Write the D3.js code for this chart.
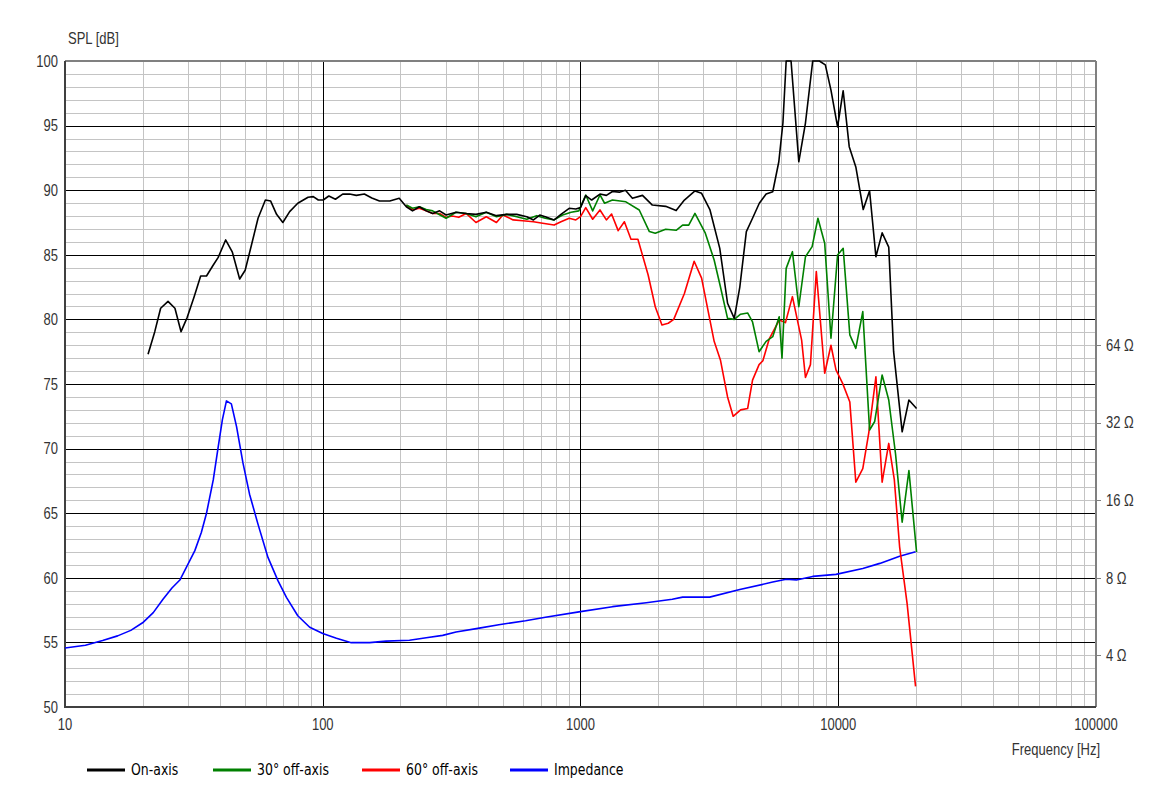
<!DOCTYPE html>
<html><head><meta charset="utf-8">
<script src="https://cdn.jsdelivr.net/npm/d3@7"></script>
<style>body{margin:0;background:#fff}svg{display:block}</style>
</head><body>
<script>
// ---------- data ----------
const onFreq = [21.0,22.3,23.5,25.1,26.7,28.2,29.8,31.7,33.6,35.4,37.4,39.3,42.0,44.6,47.6,50.0,52.9,56.1,59.9,62.8,66.2,70.0,74.4,80.0,87.7,91.9,96.1,100.4,105.6,112,119.5,127,135,145,155,166,182,198,211,223,237,252,267,284,301,329,360,393,431,472,517,566,619,657,695,730,790,840,904,959,1000,1048,1105,1190,1260,1330,1415,1494,1590,1740,1900,2140,2350,2530,2780,2950,3180,3470,3720,3950,4150,4400,4650,4940,5250,5570,5880,6100,6280,6560,7030,7460,7960,8450,8910,9370,9940,10450,11030,11700,12500,13230,14000,14800,15700,16400,17700,18800,20130];
const onSpl  = [77.3,79.05,80.86,81.4,80.86,79.05,80.16,81.76,83.36,83.36,84.13,84.8,86.15,85.2,83.13,83.8,85.76,87.83,89.24,89.16,88.13,87.5,88.34,88.99,89.45,89.5,89.24,89.24,89.55,89.3,89.7,89.7,89.6,89.7,89.4,89.16,89.16,89.37,88.72,88.4,88.72,88.4,88.2,88.4,88.08,88.29,88.2,88.13,88.29,88.03,88.13,88.13,87.95,87.7,88.08,87.95,87.7,88.13,88.6,88.55,88.65,89.58,89.24,89.7,89.6,89.9,89.85,90.0,89.37,89.6,88.85,88.75,88.42,89.24,89.94,89.76,88.47,85.5,81.25,80.08,82.5,86.8,87.83,88.99,89.7,89.88,92.2,95.2,100,100,92.2,95.2,100,100,99.7,97.75,94.9,97.7,93.37,91.8,88.5,89.96,84.85,86.7,85.6,77.5,71.3,73.76,73.1];

const off30Freq = [211,223,237,252,267,284,301,329,360,393,431,472,517,566,619,676,730,790,852,920,985,1048,1115,1190,1240,1330,1500,1690,1850,1950,2140,2350,2490,2630,2780,3050,3300,3490,3720,3950,4180,4450,4650,4930,5250,5570,5900,6050,6280,6640,7030,7460,7920,8340,8860,9370,9940,10450,11090,11700,12450,13230,13850,14800,15700,16680,17700,18800,20130];
const off30Spl  = [88.85,88.6,88.72,88.5,88.4,88.1,87.83,88.29,88.2,87.95,88.29,87.95,88.13,87.95,87.75,88.03,87.83,87.7,88.08,88.29,88.4,89.63,88.4,89.63,88.99,89.24,89.1,88.47,86.8,86.67,86.98,86.9,87.3,87.3,88.2,86.67,84.6,82.53,80.08,80.0,80.4,80.5,79.8,77.5,78.3,78.66,80.2,77.0,83.95,85.24,80.98,84.85,85.63,87.83,85.9,78.54,84.98,85.5,78.8,77.76,80.6,71.44,72.1,75.7,73.76,69.6,64.3,68.3,62.0];

const off60Freq = [211,223,237,252,267,284,301,318,337,360,393,431,472,500,548,597,657,713,790,840,904,959,1000,1048,1115,1190,1260,1320,1400,1480,1570,1670,1830,1950,2070,2190,2300,2530,2760,2950,3300,3490,3720,3910,4180,4450,4650,4930,5100,5400,5900,6240,6640,7210,7460,7800,8220,8860,9370,9800,10400,11090,11700,12450,13130,14000,14800,15700,16500,17300,18500,19950];
const off60Spl  = [88.85,88.47,88.6,88.4,88.2,88.2,87.9,88.0,87.9,88.2,87.5,87.95,87.5,88.08,87.7,87.64,87.56,87.44,87.3,87.56,87.83,87.7,87.95,88.65,87.75,88.47,87.7,88.16,86.87,87.56,86.2,86.2,83.44,80.98,79.57,79.7,80.0,82.0,84.5,83.2,78.3,76.86,74.0,72.5,73.0,73.1,75.3,76.5,76.8,78.5,79.95,79.75,81.76,78.4,75.5,76.5,83.7,75.83,78.0,76.1,75.05,73.6,67.4,68.45,71.2,75.56,67.4,70.4,67.6,62.4,58.0,51.6];

const impFreq = [10,12,14,16,18,20,22,24,26,27.9,29.6,31.9,33.8,35.4,37.6,39.3,40.8,42.3,44.2,46.3,49.0,52.0,56.1,61.3,67.0,72.3,80.0,89,100,113,129,152,176,217,252,292,329,405,482,612,731,986,1330,1800,2270,2490,3170,4150,5570,6280,6880,7960,9800,12450,14500,17300,19950];
const impOhm  = [4.27,4.38,4.57,4.76,5.0,5.35,5.86,6.6,7.3,7.84,8.8,10.2,12.0,14.25,19.2,25.8,32.9,38.9,37.9,30.9,22.4,16.9,12.9,9.6,7.8,6.72,5.7,5.14,4.86,4.66,4.48,4.48,4.54,4.58,4.68,4.78,4.93,5.1,5.26,5.45,5.62,5.9,6.18,6.4,6.6,6.73,6.73,7.2,7.7,7.9,7.85,8.1,8.25,8.7,9.1,9.7,10.1];

const xTicks = [10,100,1000,10000,100000];
const xTickLabels = ["10","100","1000","10000","100000"];
const yTicks = [50,55,60,65,70,75,80,85,90,95,100];
const ohmTicks = [4,8,16,32,64];
const ohmTickLabels = ["4 Ω","8 Ω","16 Ω","32 Ω","64 Ω"];
const legendNames = ["On-axis","30° off-axis","60° off-axis","Impedance"];
const seriesColors = ["#000000","#008000","#ff0000","#0000ff"];

// ---------- layout ----------
const W = 1173, H = 800;
const L = 65, R = 1096, T = 61, B = 707;
const SY = 1.22; // vertical stretch of the original rendering's text

const svg = d3.select("body").append("svg").attr("width", W).attr("height", H);
svg.append("rect").attr("width", W).attr("height", H).attr("fill", "#fff");

const x = d3.scaleLog().domain([10, 100000]).range([L, R]);
const y = d3.scaleLinear().domain([50, 100]).range([B, T]);
const yOhm = d3.scaleLog().base(2).domain([8 * Math.pow(2, -10/6), 8 * Math.pow(2, 40/6)]).range([B, T]);

function stext(parent, px, py, str, anchor, family, size, fill) {
  parent.append("g").attr("transform", `translate(${px},${py}) scale(1,${SY})`)
    .append("text").attr("text-anchor", anchor).attr("dy", "0.36em")
    .attr("font-family", family).attr("font-size", size).attr("fill", fill).text(str);
}

// grid
const grid = svg.append("g");
const minorX = [];
for (let d = 10; d < 100000; d *= 10) for (let k = 2; k <= 9; k++) minorX.push(d * k);
grid.selectAll(".mx").data(minorX).join("line")
  .attr("x1", d => Math.round(x(d)) + 0.5).attr("x2", d => Math.round(x(d)) + 0.5)
  .attr("y1", T).attr("y2", B).attr("stroke", "#c4c4c4").attr("stroke-width", 1);
const minorY = d3.range(51, 100).filter(v => v % 5 !== 0);
grid.selectAll(".my").data(minorY).join("line")
  .attr("x1", L).attr("x2", R)
  .attr("y1", d => Math.round(y(d)) + 0.5).attr("y2", d => Math.round(y(d)) + 0.5)
  .attr("stroke", "#c4c4c4").attr("stroke-width", 1);
grid.selectAll(".My").data(yTicks.slice(1, -1)).join("line")
  .attr("x1", L).attr("x2", R)
  .attr("y1", d => Math.round(y(d)) + 0.5).attr("y2", d => Math.round(y(d)) + 0.5)
  .attr("stroke", "#000").attr("stroke-width", 1);
grid.selectAll(".Mx").data(xTicks.slice(1, -1)).join("line")
  .attr("x1", d => Math.round(x(d)) + 0.5).attr("x2", d => Math.round(x(d)) + 0.5)
  .attr("y1", T).attr("y2", B).attr("stroke", "#000").attr("stroke-width", 1);

// frame
svg.append("line").attr("x1", L).attr("x2", R).attr("y1", T).attr("y2", T).attr("stroke", "#808080").attr("stroke-width", 2);
svg.append("line").attr("x1", R).attr("x2", R).attr("y1", T).attr("y2", B).attr("stroke", "#808080").attr("stroke-width", 2);
svg.append("line").attr("x1", L).attr("x2", L).attr("y1", T).attr("y2", B + 1).attr("stroke", "#404040").attr("stroke-width", 2);
svg.append("line").attr("x1", L).attr("x2", R).attr("y1", B).attr("y2", B).attr("stroke", "#404040").attr("stroke-width", 2);

// right ticks
svg.selectAll(".rt").data(ohmTicks).join("line")
  .attr("x1", R).attr("x2", R + 5)
  .attr("y1", d => Math.round(yOhm(d)) + 0.5).attr("y2", d => Math.round(yOhm(d)) + 0.5)
  .attr("stroke", "#808080").attr("stroke-width", 1);

// labels
const lab = svg.append("g");
const FONT = "'Liberation Sans', Arial, sans-serif";
yTicks.forEach(v => stext(lab, 58, y(v), String(v), "end", FONT, 13, "#333"));
xTicks.forEach((v, i) => stext(lab, x(v), 724, xTickLabels[i], "middle", FONT, 13, "#333"));
ohmTicks.forEach((v, i) => stext(lab, 1106, yOhm(v), ohmTickLabels[i], "start", FONT, 13, "#333"));
stext(lab, 68, 38, "SPL [dB]", "start", FONT, 13, "#333");
stext(lab, 1100, 749, "Frequency [Hz]", "end", FONT, 13, "#333");

// curves
svg.append("clipPath").attr("id", "clip").append("rect").attr("x", L).attr("y", T - 1).attr("width", R - L).attr("height", B - T + 2);
const plot = svg.append("g").attr("clip-path", "url(#clip)");
const lineSpl = d3.line().x(d => x(d[0])).y(d => y(d[1]));
const lineOhm = d3.line().x(d => x(d[0])).y(d => yOhm(d[1]));
plot.append("path").datum(d3.zip(impFreq, impOhm)).attr("d", lineOhm)
  .attr("fill", "none").attr("stroke", seriesColors[3]).attr("stroke-width", 1.6).attr("stroke-linejoin", "round");
plot.append("path").datum(d3.zip(off60Freq, off60Spl)).attr("d", lineSpl)
  .attr("fill", "none").attr("stroke", seriesColors[2]).attr("stroke-width", 1.6).attr("stroke-linejoin", "round");
plot.append("path").datum(d3.zip(off30Freq, off30Spl)).attr("d", lineSpl)
  .attr("fill", "none").attr("stroke", seriesColors[1]).attr("stroke-width", 1.6).attr("stroke-linejoin", "round");
plot.append("path").datum(d3.zip(onFreq, onSpl)).attr("d", lineSpl)
  .attr("fill", "none").attr("stroke", seriesColors[0]).attr("stroke-width", 1.6).attr("stroke-linejoin", "round");

// legend
const legX = [87, 213, 362, 510];
const leg = svg.append("g");
legendNames.forEach((n, i) => {
  leg.append("line").attr("x1", legX[i]).attr("x2", legX[i] + 38).attr("y1", 770).attr("y2", 770)
    .attr("stroke", seriesColors[i]).attr("stroke-width", 3);
  stext(leg, legX[i] + 44, 769, n, "start", "'DejaVu Sans', Verdana, sans-serif", 12.5, "#000");
});
</script>
</body></html>
